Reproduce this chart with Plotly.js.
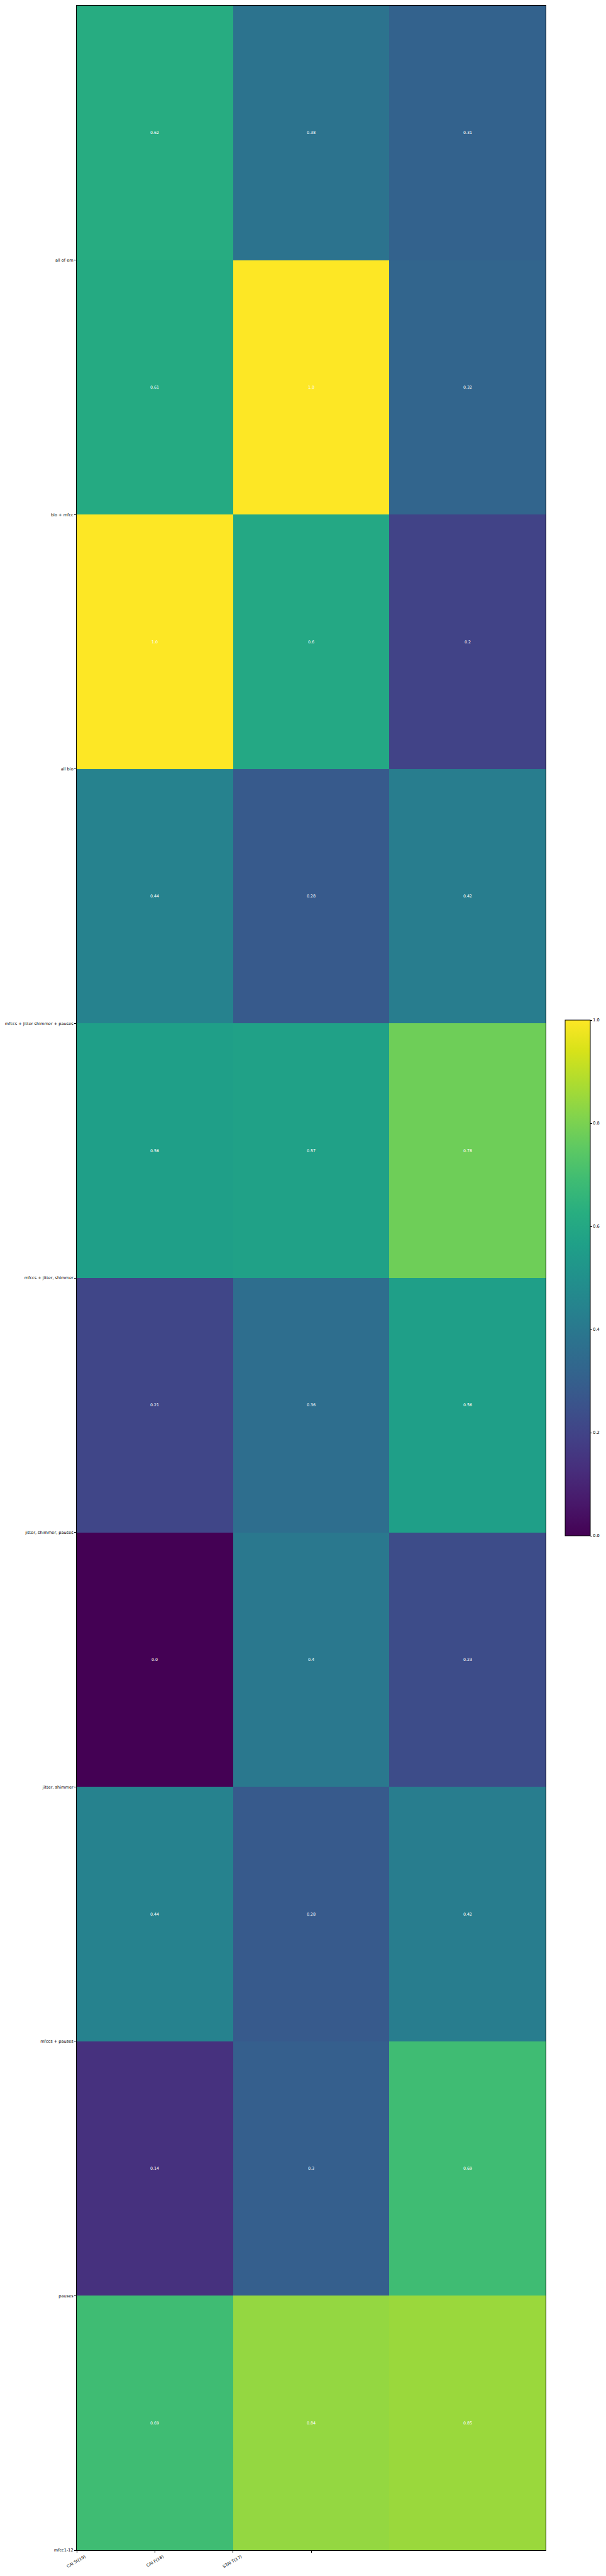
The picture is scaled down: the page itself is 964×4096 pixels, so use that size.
<!DOCTYPE html>
<html>
<head>
<meta charset="utf-8">
<script src="https://cdn.plot.ly/plotly-3.0.1.min.js"></script>
<style>html,body{margin:0;padding:0;background:#fff;}#chart{width:964px;height:4096px;}</style>
</head>
<body>
<div id="chart"></div>
<script>
// Columns (x tick labels; the 4th tick is unlabeled in the reference)
const colLabels = ['CAI St(19)', 'CAI F(18)', 'STAI T(17)', ''];
// Row tick labels (placed at row boundaries as in the reference)
const rowLabels = ['all of em', 'bio + mfcc', 'all bio', 'mfccs + jitter shimmer + pauses',
  'mfccs + jitter, shimmer', 'jitter, shimmer, pauses', 'jitter, shimmer', 'mfccs + pauses',
  'pauses', 'mfcc1-12'];
// Cell values, one array per row (top to bottom)
const row0 = [0.62, 0.38, 0.31];
const row1 = [0.61, 1.0, 0.32];
const row2 = [1.0, 0.6, 0.2];
const row3 = [0.44, 0.28, 0.42];
const row4 = [0.56, 0.57, 0.78];
const row5 = [0.21, 0.36, 0.56];
const row6 = [0.0, 0.4, 0.23];
const row7 = [0.44, 0.28, 0.42];
const row8 = [0.14, 0.30, 0.69];
const row9 = [0.69, 0.84, 0.85];
const cbTicks = [0.0, 0.2, 0.4, 0.6, 0.8, 1.0];

const z = [row0, row1, row2, row3, row4, row5, row6, row7, row8, row9];
const fmt = v => { const r = Math.round(v * 100) / 100; return Number.isInteger(r) ? r.toFixed(1) : String(r); };
const text = z.map(r => r.map(fmt));
const nCols = row0.length, nRows = z.length;
const xs = Array.from({length: nCols}, (_, i) => i);
const ys = Array.from({length: nRows}, (_, i) => i);

const font = {family: 'DejaVu Sans, sans-serif', size: 6.6, color: '#000'};

const trace = {
  type: 'heatmap', z: z, x: xs, y: ys, text: text,
  texttemplate: '%{text}', textfont: {family: 'DejaVu Sans, sans-serif', size: 6.4, color: '#ffffff'},
  colorscale: 'Viridis', zmin: 0, zmax: 1, hoverinfo: 'none',
  colorbar: {
    x: 1.0416, xanchor: 'left', xref: 'paper', xpad: 0, y: 0.5, yanchor: 'middle', ypad: 0,
    thickness: 40, len: 820, lenmode: 'pixels', outlinewidth: 1, outlinecolor: '#000',
    tickvals: cbTicks, tickformat: '.1f', ticks: 'outside', ticklen: 3, tickcolor: '#000',
    tickfont: font
  }
};

const layout = {
  width: 964, height: 4096,
  margin: {l: 122, r: 96, t: 9, b: 41, autoexpand: false},
  paper_bgcolor: '#fff', plot_bgcolor: '#fff',
  showlegend: false,
  xaxis: {
    range: [-0.5, nCols - 0.5], tickvals: [-0.5, 0, 0.5, 1], ticktext: colLabels,
    tickangle: -30, ticklabelshift: 13, ticks: 'outside', ticklen: 3, tickcolor: '#000', tickfont: font,
    showline: true, mirror: true, linecolor: '#000', linewidth: 1, showgrid: false, zeroline: false
  },
  yaxis: {
    range: [nRows - 0.5, -0.5], tickvals: ys.map(v => v + 0.5), ticktext: rowLabels,
    ticks: 'outside', ticklen: 3, tickcolor: '#000', tickfont: font,
    showline: true, mirror: true, linecolor: '#000', linewidth: 1, showgrid: false, zeroline: false
  }
};

Plotly.newPlot('chart', [trace], layout, {staticPlot: true, displayModeBar: false});
</script>
</body>
</html>
